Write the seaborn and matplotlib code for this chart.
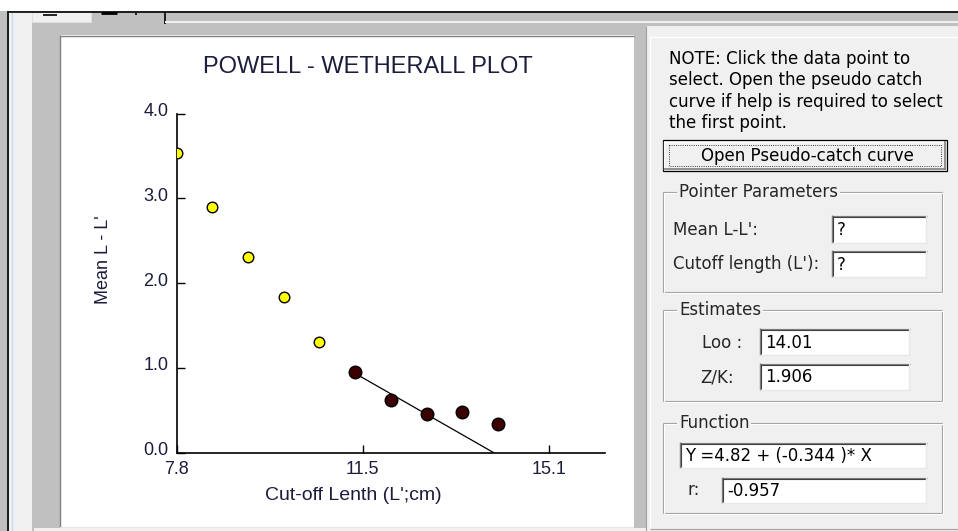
import matplotlib
matplotlib.use("Agg")
import matplotlib.pyplot as plt
import matplotlib.transforms as mtransforms
from matplotlib.patches import Rectangle
import numpy as np
import pandas as pd
import seaborn as sn

# data
cutoff_len = [7.8, 8.5, 9.2, 9.9, 10.6, 11.3, 12.0, 12.7, 13.4, 14.1]
mean_diff = [3.53, 2.90, 2.31, 1.84, 1.30, 0.95, 0.62, 0.45, 0.48, 0.34]
selected = [False, False, False, False, False, True, True, True, True, True]
intercept = 4.82
slope = -0.344
loo = 14.01
zk = 1.906
r_value = -0.957
xtick_vals = [7.8, 11.45, 15.1]
xtick_labels = ["7.8", "11.5", "15.1"]
ytick_vals = [0.0, 1.0, 2.0, 3.0, 4.0]

df = pd.DataFrame({"L": cutoff_len, "M": mean_diff, "sel": selected})

sn.set_style("white")
plt.rcParams['font.family'] = ['Liberation Sans', 'DejaVu Sans']

W, H = 958, 531
fig = plt.figure(figsize=(W / 100, H / 100), dpi=100)
fig.patch.set_facecolor("#c0c0c0")

# background in pixel coords
bg = fig.add_axes([0, 0, 1, 1])
bg.set_xlim(0, W)
bg.set_ylim(H, 0)
bg.axis("off")


def box(x0, y0, x1, y1, fc, ec="none", lw=0.0, ls="-"):
    bg.add_patch(Rectangle((x0, y0), x1 - x0, y1 - y0, facecolor=fc,
                           edgecolor=ec, linewidth=lw, linestyle=ls))


def seg(xs, ys, c, lw=0.75, ls="-"):
    bg.plot(xs, ys, color=c, linewidth=lw, linestyle=ls, solid_capstyle="butt")


def textbox(x0, y0, x1, y1, txt=None):
    box(x0, y0, x1, y1, "white")
    seg([x0, x1], [y0 + 0.5, y0 + 0.5], "#808080", 1.0)
    seg([x0 + 0.5, x0 + 0.5], [y0, y1], "#808080", 1.0)
    seg([x0 + 1, x1 - 1], [y0 + 1.5, y0 + 1.5], "#404040", 0.8)
    seg([x0 + 1.5, x0 + 1.5], [y0 + 1, y1 - 1], "#404040", 0.8)
    seg([x0, x1], [y1 - 0.5, y1 - 0.5], "#e8e8e8", 1.0)
    seg([x1 - 0.5, x1 - 0.5], [y0, y1], "#e8e8e8", 1.0)
    if txt is not None:
        bg.text(x0 + 5, (y0 + y1) / 2 + 1, txt, fontsize=12, va="center",
                ha="left", color="black", family="DejaVu Sans")


def group(x0, y0, x1, y1, label):
    for off, c in [(0, "#a0a0a0"), (1, "white")]:
        seg([x0 + off, x1 + off], [y0 + off, y0 + off], c, 0.8)
        seg([x0 + off, x1 + off], [y1 + off, y1 + off], c, 0.8)
        seg([x0 + off, x0 + off], [y0 + off, y1 + off], c, 0.8)
        seg([x1 + off, x1 + off], [y0 + off, y1 + off], c, 0.8)
    bg.text(x0 + 16, y0, label, fontsize=12, va="center", ha="left",
            family="DejaVu Sans",
            bbox=dict(facecolor="#f0f0f0", edgecolor="none", pad=1.5))


# window frame and tab strip
box(0, 0, W, 11, "white")
box(9, 12, 32, H, "#f0f0f0")
seg([12.5, 12.5], [12, H], "#c8dcf0", 1.0)
seg([8, W], [11.5, 11.5], "black", 1.2)
seg([8.5, 8.5], [11, H], "black", 1.2)
box(32, 12, 91, 22, "#f0f0f0", "#e0e0e0", 0.7)
seg([43, 57], [15, 15], "black", 1.2)
seg([101, 117], [13, 13], "black", 2.0)
seg([135, 137], [13.5, 13.5], "black", 1.2)
seg([165, 165], [12, 24], "black", 1.2)
seg([165, W], [22, 22], "#f0f0f0", 1.5)

# sunken white plot panel
box(60, 35, 634, 527, "white")
seg([60, 634], [35.5, 35.5], "#808080", 1.0)
seg([60.5, 60.5], [35, 527], "#808080", 1.0)
seg([60, 634], [527.5, 527.5], "#f0f0f0", 1.2)
box(34, 528, 646, H, "#f0f0f0")

# right control panel
box(646, 26, W, H, "#f0f0f0")
seg([646.5, 646.5], [26, H], "#a0a0a0", 0.8)
seg([650, W], [36.5, 36.5], "white", 1.0)
seg([650.5, 650.5], [36, 528], "white", 1.0)
seg([650, W], [528.5, 528.5], "#a0a0a0", 0.8)

note = ["NOTE: Click the data point to",
        "select. Open the pseudo catch",
        "curve if help is required to select",
        "the first point."]
for i, line in enumerate(note):
    bg.text(669, 59 + i * 21.3, line, fontsize=12, va="center", ha="left",
            family="DejaVu Sans", color="black")

# button
box(663, 140, 947, 171, "#f0f0f0", "black", 0.9)
seg([664, 946], [141.5, 141.5], "white", 1.0)
seg([664.5, 664.5], [141, 170], "white", 1.0)
seg([664, 946], [169, 169], "#808080", 1.2)
seg([945.5, 945.5], [141, 170], "#808080", 1.2)
box(669, 145, 941, 166, "none", "black", 0.6, ":")
bg.text(807, 156, "Open Pseudo-catch curve", fontsize=12, va="center",
        ha="center", family="DejaVu Sans", color="black")

group(663, 192, 942, 292, "Pointer Parameters")
bg.text(673, 230, "Mean L-L':", fontsize=12, va="center", ha="left",
        family="DejaVu Sans")
bg.text(673, 264, "Cutoff length (L'):", fontsize=12, va="center", ha="left",
        family="DejaVu Sans")
textbox(832, 215, 927, 243, "?")
textbox(832, 250, 927, 277, "?")

group(663, 310, 942, 401, "Estimates")
bg.text(702, 343, "Loo :", fontsize=12, va="center", ha="left",
        family="DejaVu Sans")
bg.text(700, 377, "Z/K:", fontsize=12, va="center", ha="left",
        family="DejaVu Sans")
textbox(760, 328, 910, 355, f"{loo:.2f}")
textbox(760, 363, 910, 390, f"{zk:.3f}")

group(663, 423, 942, 513, "Function")
textbox(680, 442, 927, 468, f"Y ={intercept:.2f} + ({slope:.3f} )* X")
bg.text(688, 490, "r:", fontsize=12, va="center", ha="left",
        family="DejaVu Sans")
textbox(722, 477, 927, 503, f"{r_value:.3f}")

# the plot itself
ax_l, ax_r, ax_t, ax_b = 176.7, 605, 113.5, 452.5
ax = fig.add_axes([ax_l / W, 1 - ax_b / H, (ax_r - ax_l) / W, (ax_b - ax_t) / H])
ax.patch.set_alpha(0)

line_x = np.array([cutoff_len[5], loo])
line_y = intercept + slope * line_x
sn.lineplot(x=line_x, y=line_y, color="black", linewidth=0.9, ax=ax)

sn.scatterplot(data=df[~df.sel], x="L", y="M", color="#ffff00", s=58,
               edgecolor="black", linewidth=1.0, ax=ax, zorder=3)
sn.scatterplot(data=df[df.sel], x="L", y="M", color="#3c0000", s=82,
               edgecolor="black", linewidth=1.0, ax=ax, zorder=3)

ax.set_xlim(7.8, 16.2)
ax.set_ylim(0, 4.0)
ax.set_xticks(xtick_vals)
ax.set_xticklabels(xtick_labels)
ax.set_yticks(ytick_vals)
ax.set_yticklabels([f"{v:.1f}" for v in ytick_vals])
ax.tick_params(direction="in", length=6, width=1.0, colors="black",
               labelcolor="#1c1c3c", labelsize=13, left=True, bottom=True)
ax.tick_params(axis="x", pad=6)
ax.tick_params(axis="y", pad=6)
for s in ["top", "right"]:
    ax.spines[s].set_visible(False)
for s in ["left", "bottom"]:
    ax.spines[s].set_color("black")
    ax.spines[s].set_linewidth(1.2)

up = mtransforms.ScaledTranslation(0, 4 / 100, fig.dpi_scale_trans)
for lbl in ax.get_yticklabels():
    lbl.set_transform(lbl.get_transform() + up)

ax.set_xlabel("Cut-off Lenth (L';cm)", fontsize=14, color="#1c1c3c")
ax.set_ylabel("Mean L - L'", fontsize=13, color="#1c1c3c")
ax.xaxis.set_label_coords((353 - ax_l) / (ax_r - ax_l), (ax_b - 496) / (ax_b - ax_t))
ax.xaxis.label.set_va("center")
ax.yaxis.set_label_coords((103 - ax_l) / (ax_r - ax_l), (ax_b - 260) / (ax_b - ax_t))
ax.yaxis.label.set_va("center")

bg.text(368, 67, "POWELL - WETHERALL PLOT", fontsize=17, ha="center",
        va="center", color="#1c1c3c")

fig.savefig("out.png", dpi=100, facecolor=fig.get_facecolor())
